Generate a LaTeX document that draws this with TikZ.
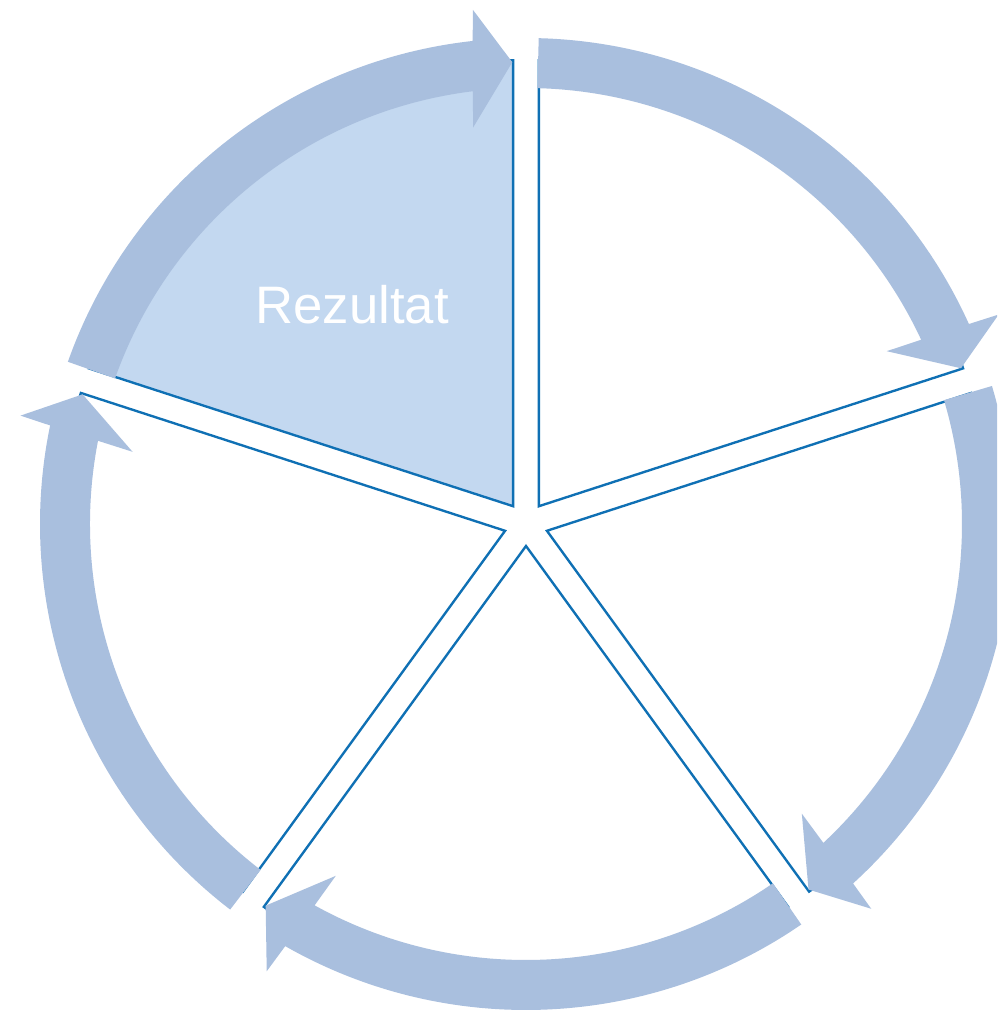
\documentclass[tikz,border=0pt]{standalone}
\usepackage{fontspec}
\setmainfont{Liberation Sans}
\usepackage{tikz}
\usetikzlibrary{positioning,calc}
\definecolor{cycRing}{HTML}{A9BFDE}
\definecolor{cycFill}{HTML}{C3D8F0}
\definecolor{cycLine}{HTML}{0F70B4}

\begin{document}
\begin{tikzpicture}[
    sector/.style={draw=cycLine, line width=1.35pt, line join=miter},
    ring/.style={fill=cycRing, draw=none},
    title/.style={font=\fontsize{30}{36}\selectfont, text=white, inner sep=0pt}
]
    % Marco de la figura (la flecha derecha queda cortada)
    \clip (-10.52,-9.76) rectangle (9.42,10.48);
    \coordinate (c) at (0,0);

    % Cinco sectores separados del centro
    \foreach \a/\f in {90/cycFill, 18/white, -54/white, -126/white, 162/white}{
        \path[sector, fill=\f] ($(c)+(\a+36:0.44)$) -- ++(\a:8.92)
            arc[start angle=\a, end angle=\a+72, radius=8.92] -- cycle;
    }

    % Flechas del ciclo, en sentido horario
    \foreach \t in {91.7, 19.7, -52.3, -124.3, 163.7}{
        \fill[ring] (\t+68.8:9.72)
            arc[start angle=\t+68.8, end angle=\t+4.6, radius=9.72]
            -- (\t+4.2:10.34) -- (\t:9.24) -- (\t+5.9:8.0) -- (\t+5.3:8.72)
            arc[start angle=\t+5.3, end angle=\t+68.8, radius=8.72] -- cycle;
    }

    \node[title] (rez) at (-3.48,4.38) {Rezultat};
\end{tikzpicture}
\end{document}
